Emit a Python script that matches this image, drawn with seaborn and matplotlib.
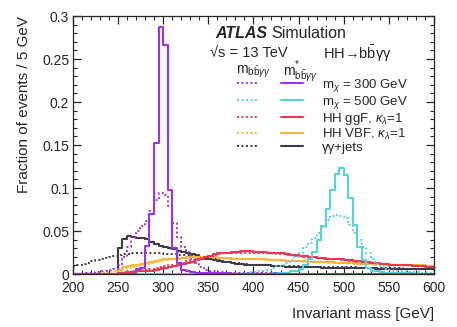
import matplotlib
matplotlib.use("Agg")
import matplotlib.pyplot as plt
import seaborn as sns
import numpy as np
from matplotlib.lines import Line2D
from matplotlib.legend_handler import HandlerTuple
from matplotlib.ticker import MultipleLocator, FuncFormatter

# binning: 5 GeV bins from 200 to 600 GeV
bin_edges = np.arange(200, 605, 5)
bin_centers = bin_edges[:-1] + 2.5

# m_X = 300 GeV
x300_mstar = [0, 0, 0, 0, 0, 0, 0, 0, 0, 0,
              0, 0, 0, 0.0005, 0.006, 0.007, 0.033, 0.070, 0.152, 0.287,
              0.266, 0.098, 0.030, 0.013, 0.005, 0.003, 0.002, 0.0015, 0.001, 0.001,
              0.0008, 0.0008, 0.0008, 0.0007, 0.0007, 0.0006, 0.0006, 0.0006, 0.0005, 0.0005,
              0.0005, 0.0005, 0.0005, 0.0004, 0.0004, 0.0004, 0.0004, 0.0004, 0.0004, 0.0004,
              0.0003, 0.0003, 0.0003, 0.0003, 0.0003, 0.0003, 0.0003, 0.0003, 0.0003, 0.0003,
              0.0003, 0.0003, 0.0002, 0.0002, 0.0002, 0.0002, 0.0002, 0.0002, 0.0002, 0.0002,
              0.0002, 0.0002, 0.0002, 0.0002, 0.0002, 0.0002, 0.0002, 0.0002, 0.0002, 0.0002]
x300_m = [0, 0, 0, 0.001, 0.001, 0.002, 0.003, 0.004, 0.005, 0.006,
          0.010, 0.020, 0.032, 0.043, 0.050, 0.056, 0.062, 0.073, 0.086, 0.094,
          0.092, 0.079, 0.059, 0.043, 0.032, 0.026, 0.018, 0.013, 0.008, 0.005,
          0.004, 0.003, 0.002, 0.002, 0.0015, 0.001, 0.001, 0.001, 0.001, 0.001,
          0.0008, 0.0008, 0.0008, 0.0007, 0.0007, 0.0006, 0.0006, 0.0006, 0.0005, 0.0005,
          0.0005, 0.0005, 0.0004, 0.0004, 0.0004, 0.0004, 0.0004, 0.0003, 0.0003, 0.0003,
          0.0003, 0.0003, 0.0003, 0.0003, 0.0003, 0.0002, 0.0002, 0.0002, 0.0002, 0.0002,
          0.0002, 0.0002, 0.0002, 0.0002, 0.0002, 0.0002, 0.0002, 0.0002, 0.0002, 0.0002]

# m_X = 500 GeV
x500_mstar = [0, 0, 0, 0, 0, 0, 0, 0, 0, 0,
              0, 0, 0, 0, 0, 0, 0, 0, 0, 0,
              0, 0, 0, 0, 0, 0, 0, 0, 0, 0,
              0, 0, 0, 0, 0.0001, 0.0001, 0.0002, 0.0002, 0.0002, 0.0003,
              0.0003, 0.0003, 0.0005, 0.0005, 0.0007, 0.001, 0.001, 0.0015, 0.003, 0.004,
              0.006, 0.0105, 0.018, 0.026, 0.040, 0.056, 0.076, 0.098, 0.116, 0.123,
              0.115, 0.088, 0.057, 0.031, 0.016, 0.007, 0.004, 0.003, 0.002, 0.0015,
              0.001, 0.001, 0.0008, 0.0008, 0.0007, 0.0006, 0.0006, 0.0005, 0.0005, 0.0005]
x500_m = [0, 0, 0, 0, 0, 0, 0, 0, 0, 0,
          0, 0, 0, 0, 0, 0, 0, 0, 0, 0,
          0, 0, 0, 0, 0.0002, 0.0002, 0.0003, 0.0003, 0.0004, 0.0004,
          0.0005, 0.0005, 0.0008, 0.0008, 0.001, 0.001, 0.001, 0.0012, 0.0015, 0.0018,
          0.002, 0.003, 0.004, 0.005, 0.007, 0.009, 0.011, 0.013, 0.016, 0.020,
          0.025, 0.031, 0.036, 0.042, 0.048, 0.055, 0.063, 0.068, 0.069, 0.068,
          0.065, 0.057, 0.048, 0.0395, 0.031, 0.024, 0.017, 0.012, 0.008, 0.006,
          0.005, 0.004, 0.003, 0.003, 0.002, 0.002, 0.002, 0.001, 0.001, 0.001]

# HH ggF, kappa_lambda = 1
ggf_mstar = [0, 0, 0, 0, 0, 0, 0, 0, 0, 0,
             0.001, 0.001, 0.002, 0.002, 0.003, 0.003, 0.004, 0.004, 0.005, 0.006,
             0.007, 0.008, 0.009, 0.010, 0.012, 0.013, 0.014, 0.016, 0.018, 0.020,
             0.021, 0.023, 0.024, 0.025, 0.025, 0.026, 0.026, 0.027, 0.027, 0.027,
             0.026, 0.026, 0.026, 0.025, 0.025, 0.024, 0.024, 0.023, 0.022, 0.022,
             0.021, 0.021, 0.020, 0.020, 0.019, 0.019, 0.018, 0.018, 0.017, 0.017,
             0.016, 0.016, 0.015, 0.015, 0.014, 0.014, 0.013, 0.013, 0.012, 0.012,
             0.011, 0.011, 0.011, 0.010, 0.010, 0.009, 0.009, 0.009, 0.008, 0.008]
ggf_m = [0, 0, 0, 0, 0, 0, 0, 0, 0, 0.0005,
         0.001, 0.002, 0.002, 0.003, 0.004, 0.005, 0.005, 0.006, 0.007, 0.008,
         0.009, 0.010, 0.011, 0.012, 0.013, 0.015, 0.016, 0.017, 0.019, 0.020,
         0.021, 0.022, 0.023, 0.024, 0.024, 0.025, 0.025, 0.025, 0.025, 0.025,
         0.025, 0.025, 0.024, 0.024, 0.024, 0.023, 0.023, 0.022, 0.022, 0.021,
         0.021, 0.020, 0.020, 0.019, 0.019, 0.018, 0.018, 0.017, 0.017, 0.016,
         0.016, 0.015, 0.015, 0.014, 0.014, 0.013, 0.013, 0.012, 0.012, 0.012,
         0.011, 0.011, 0.010, 0.010, 0.010, 0.009, 0.009, 0.009, 0.008, 0.008]

# HH VBF, kappa_lambda = 1
vbf_mstar = [0, 0, 0, 0, 0, 0, 0, 0, 0, 0,
             0.005, 0.008, 0.009, 0.010, 0.011, 0.012, 0.013, 0.014, 0.015, 0.016,
             0.017, 0.018, 0.018, 0.019, 0.019, 0.020, 0.020, 0.020, 0.020, 0.020,
             0.020, 0.020, 0.019, 0.019, 0.019, 0.018, 0.018, 0.018, 0.018, 0.017,
             0.017, 0.017, 0.017, 0.016, 0.016, 0.016, 0.016, 0.015, 0.015, 0.015,
             0.015, 0.015, 0.014, 0.014, 0.014, 0.014, 0.014, 0.014, 0.013, 0.013,
             0.013, 0.013, 0.013, 0.012, 0.012, 0.012, 0.012, 0.012, 0.012, 0.011,
             0.011, 0.011, 0.011, 0.011, 0.010, 0.010, 0.010, 0.010, 0.009, 0.009]
vbf_m = [0, 0, 0, 0, 0, 0.001, 0.001, 0.002, 0.003, 0.004,
         0.005, 0.006, 0.007, 0.008, 0.009, 0.011, 0.012, 0.013, 0.014, 0.015,
         0.016, 0.017, 0.018, 0.018, 0.019, 0.019, 0.020, 0.020, 0.020, 0.020,
         0.020, 0.019, 0.019, 0.019, 0.018, 0.018, 0.018, 0.018, 0.017, 0.017,
         0.017, 0.017, 0.016, 0.016, 0.016, 0.016, 0.015, 0.015, 0.015, 0.015,
         0.015, 0.014, 0.014, 0.014, 0.014, 0.014, 0.013, 0.013, 0.013, 0.013,
         0.013, 0.013, 0.012, 0.012, 0.012, 0.012, 0.012, 0.011, 0.011, 0.011,
         0.011, 0.011, 0.010, 0.010, 0.010, 0.010, 0.010, 0.009, 0.009, 0.009]

# gamma gamma + jets
yyjets_mstar = [0, 0, 0, 0, 0, 0, 0, 0, 0, 0,
                0.030, 0.041, 0.0445, 0.043, 0.0415, 0.042, 0.0405, 0.0376, 0.0345, 0.033,
                0.031, 0.030, 0.029, 0.027, 0.026, 0.025, 0.023, 0.022, 0.020, 0.018,
                0.017, 0.016, 0.015, 0.014, 0.014, 0.013, 0.012, 0.012, 0.011, 0.011,
                0.011, 0.010, 0.010, 0.010, 0.009, 0.009, 0.009, 0.0085, 0.0085, 0.008,
                0.008, 0.008, 0.008, 0.0078, 0.0076, 0.0075, 0.0074, 0.0074, 0.0073, 0.0072,
                0.0071, 0.0070, 0.0069, 0.0068, 0.0067, 0.0066, 0.0065, 0.0064, 0.0063, 0.0062,
                0.0061, 0.0060, 0.0059, 0.0058, 0.0058, 0.0057, 0.0056, 0.0055, 0.0055, 0.0054]
yyjets_m = [0.0097, 0.011, 0.012, 0.013, 0.015, 0.016, 0.018, 0.019, 0.020, 0.021,
            0.022, 0.023, 0.023, 0.024, 0.024, 0.024, 0.024, 0.024, 0.024, 0.024,
            0.023, 0.023, 0.023, 0.022, 0.022, 0.022, 0.021, 0.021, 0.020, 0.019,
            0.018, 0.017, 0.016, 0.015, 0.014, 0.013, 0.013, 0.012, 0.012, 0.011,
            0.011, 0.010, 0.010, 0.010, 0.0095, 0.0095, 0.009, 0.009, 0.009, 0.009,
            0.0088, 0.0086, 0.0085, 0.0085, 0.0084, 0.0083, 0.0082, 0.0082, 0.0080, 0.0080,
            0.0078, 0.0077, 0.0076, 0.0075, 0.0074, 0.0072, 0.0071, 0.0070, 0.0069, 0.0068,
            0.0067, 0.0066, 0.0065, 0.0064, 0.0063, 0.0062, 0.0061, 0.0060, 0.0059, 0.0058]

labels = ["m$_{\\chi}$ = 300 GeV", "m$_{\\chi}$ = 500 GeV",
          "HH ggF, $\\kappa_{\\lambda}$=1", "HH VBF, $\\kappa_{\\lambda}$=1", "γγ+jets"]
colors = ["#a030f0", "#55d6d6", "#f03452", "#fcb43a", "#3c3c46"]
series_m = [x300_m, x500_m, ggf_m, vbf_m, yyjets_m]
series_mstar = [x300_mstar, x500_mstar, ggf_mstar, vbf_mstar, yyjets_mstar]

sns.set_style("ticks")
plt.rcParams["font.family"] = ["Liberation Sans", "DejaVu Sans"]
plt.rcParams["mathtext.fontset"] = "custom"
plt.rcParams["mathtext.rm"] = "Liberation Sans"
plt.rcParams["mathtext.it"] = "Liberation Sans:italic"
plt.rcParams["mathtext.bf"] = "Liberation Sans:bold"

dotted = (0, (1, 1.3))

fig = plt.figure(figsize=(4.57, 3.27), dpi=100)
ax = fig.add_axes([0.159, 0.162, 0.791, 0.789])

# draw order: backgrounds first, signals on top
for i in [4, 3, 2, 1, 0]:
    sns.histplot(x=list(bin_centers), weights=series_m[i], binwidth=5, binrange=(200, 600),
                 element="step", fill=False, color=colors[i], linestyle=dotted,
                 linewidth=1.4, ax=ax)
    sns.histplot(x=list(bin_centers), weights=series_mstar[i], binwidth=5, binrange=(200, 600),
                 element="step", fill=False, color=colors[i], linewidth=1.5, ax=ax)

ax.set_xlim(200, 600)
ax.set_ylim(0, 0.3)
ax.xaxis.set_major_locator(MultipleLocator(50))
ax.xaxis.set_minor_locator(MultipleLocator(10))
ax.yaxis.set_major_locator(MultipleLocator(0.05))
ax.yaxis.set_minor_locator(MultipleLocator(0.01))
ax.yaxis.set_major_formatter(FuncFormatter(lambda v, p: f"{v:g}"))
ax.tick_params(which="both", direction="in", top=True, right=True, labelsize=10)
ax.tick_params(which="major", length=6, width=0.9)
ax.tick_params(which="minor", length=3, width=0.8)
ax.tick_params(axis="x", pad=5)
ax.tick_params(axis="y", pad=2.5)
for sp in ax.spines.values():
    sp.set_linewidth(0.9)

ax.set_xlabel("Invariant mass [GeV]", fontsize=11, loc="right")
ax.set_ylabel("Fraction of events / 5 GeV", fontsize=11, loc="top")
ax.xaxis.set_label_coords(1.0, -0.128)
ax.yaxis.set_label_coords(-0.115, 1.0)

# text block
ax.text(0.396, 0.934, "ATLAS", transform=ax.transAxes, fontsize=11.5,
        fontweight="bold", fontstyle="italic", va="center")
ax.text(0.550, 0.934, "Simulation", transform=ax.transAxes, fontsize=11.5, va="center")
ax.text(0.380, 0.855, "√s = 13 TeV", transform=ax.transAxes,
        fontsize=10.5, va="center")
ax.text(0.692, 0.855, "HH→b$\\bar{\\mathrm{b}}$γγ", transform=ax.transAxes,
        fontsize=10.5, va="center")
ax.text(0.452, 0.784, "m$_{\\mathrm{b\\bar{b}}\\gamma\\gamma}$", transform=ax.transAxes,
        fontsize=10, va="center")
ax.text(0.583, 0.784, "m$^{*}_{\\mathrm{b\\bar{b}}\\gamma\\gamma}$", transform=ax.transAxes,
        fontsize=10, va="center")

handles = []
for c in colors:
    h_dot = Line2D([], [], color=c, linestyle=dotted, linewidth=1.4)
    h_sol = Line2D([], [], color=c, linewidth=1.5)
    handles.append((h_dot, h_sol))
ax.legend(handles, labels, handler_map={tuple: HandlerTuple(ndivide=None, pad=1.7)},
          loc="upper left", bbox_to_anchor=(0.455, 0.765), frameon=False, fontsize=9.5,
          handlelength=5.0, handletextpad=1.4, labelspacing=0.0, borderpad=0,
          borderaxespad=0)

fig.savefig("out.png", dpi=100)
